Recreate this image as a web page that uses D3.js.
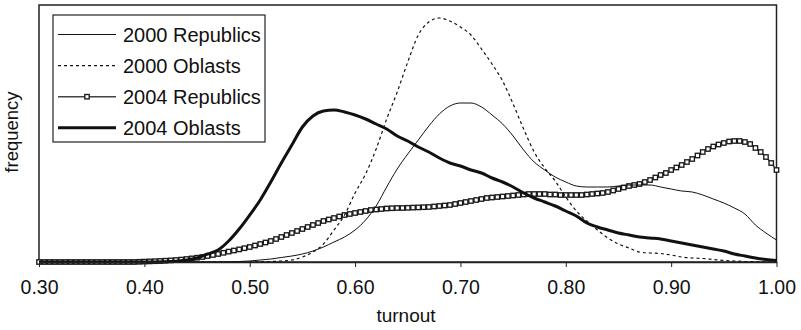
<!DOCTYPE html>
<html>
<head>
<meta charset="utf-8">
<script src="https://cdn.jsdelivr.net/npm/d3@7"></script>
<style>
  html, body { margin: 0; padding: 0; background: #fff; }
  svg { display: block; font-family: "Liberation Sans", Arial, sans-serif; }
</style>
</head>
<body>
<svg id="chart" width="801" height="330"></svg>
<script>
// Turnout grid for the density curves (0.30 … 1.00, step 0.01)
const turnout = d3.range(71).map(i => (30 + i) / 100);
// Finer grid used for the 2004 Republics curve (step 0.005)
const turnoutFine = d3.range(141).map(i => (600 + i * 10) / 2000);

// Estimated frequency (arbitrary units)
const republics2000 = [
  0,0,0,0,0,0,0,0,0,0, 0,0,0,0,0,0,0,0,
  0.3,0.5,1,2,3,4.5,6,8,11,15,
  20,25,32,42,56,75,93,108,122,136,
  148,156,159,159,155,147,138,126,112,100,
  92,85,80,76,75,75,75,76,77,77,
  77,75,73,71,70,67,63,59,54,48,
  37,29,22
];

const oblasts2000 = [
  0,0,0,0,0,0,0,0,0,0, 0,0,0,0,0,0,0,0,0,0, 0,
  0.3,0.5,1,2,5,10,18,32,47,69,
  88,113,143,170,200,227,240,244,241,235,
  227,213,198,181,158,133,110,94,81,65,
  51,41,32,24,18,14,10,9,8.5,7,
  5,4,3.5,2.5,1.5,1,0.5,0.3,0.2,0
];

const republics2004 = [
  0,0,0,0,0,0,0,0,0,0, 0,0,0,0,0,0,0,0,0,
  0.2,0.4,0.6,0.8,1.0,1.3,1.6,2.0,2.4,3.0,
  3.6,4.3,5.0,6.0,7.0,8.0,9.2,10.4,11.5,12.6,
  13.8,15,16.5,18,19.5,21,23,25,27,29,
  31,33,35,37,39,41,42.5,44,45.5,47,
  48,49,50,51,52,52.5,53,53.5,53.8,54,
  54,54.2,54.4,54.6,54.8,55,55.5,56,56.5,57,
  58,59,60,61,62,63,64,64.5,65,65.5,
  66,66.5,67,67.5,68,68,68,68,67.5,67.5,
  67,67,67,67,67,67.5,68,68.5,69,70,
  71.5,73,74.5,76,77,78,80,82,84.5,87,
  89,92,94.5,97,100,103,106.5,110,113,115.5,
  117.5,119,120.5,121,121,120,118,114,110,105,
  99,92
];

const oblasts2004 = [
  0,0,0,0,0,0,0,0,0,0, 0,0,
  0.3,0.7,2,4,8,12,21,33,47,62,
  80,99,117,135,146,151,152,150,147,143,
  138,133,126,121,115,110,104,99,96,92,
  89,84,80,75,69,64,60,56,51,46,
  39,35,32,29,27,25,24,23,21,19,
  17,15,13,11,8,6,4,2.5,1.5
];

const xTicks = [0.30, 0.40, 0.50, 0.60, 0.70, 0.80, 0.90, 1.00];
const seriesNames = ["2000 Republics", "2000 Oblasts", "2004 Republics", "2004 Oblasts"];

const series = [
  { name: seriesNames[0], x: turnout, y: republics2000, stroke: "#111", width: 1, dash: null, markers: false },
  { name: seriesNames[1], x: turnout, y: oblasts2000, stroke: "#111", width: 1.2, dash: "3,3", markers: false },
  { name: seriesNames[2], x: turnoutFine, y: republics2004, stroke: "#444", width: 1.6, dash: null, markers: true },
  { name: seriesNames[3], x: turnout, y: oblasts2004, stroke: "#111", width: 3, dash: null, markers: false }
];

const svg = d3.select("#chart");
const plot = { left: 39, right: 776.5, top: 5, bottom: 262 };

const x = d3.scaleLinear().domain([0.30, 1.00]).range([plot.left, plot.right]);
const y = d3.scaleLinear().domain([0, 257]).range([plot.bottom, plot.top]);

// Plot frame
svg.append("rect")
  .attr("x", plot.left).attr("y", plot.top)
  .attr("width", plot.right - plot.left).attr("height", plot.bottom - plot.top)
  .attr("fill", "none").attr("stroke", "#222").attr("stroke-width", 1.5);

const line = d3.line()
  .x(d => x(d[0]))
  .y(d => y(d[1]))
  .curve(d3.curveMonotoneX);

// Curves: the marker series goes first so the plain lines sit on top where they cross
const order = [2, 0, 1, 3];
order.forEach(k => {
  const s = series[k];
  const pts = s.x.map((t, i) => [t, s.y[i]]);
  svg.append("path")
    .datum(pts)
    .attr("d", line)
    .attr("fill", "none")
    .attr("stroke", s.stroke)
    .attr("stroke-width", s.width)
    .attr("stroke-linejoin", "round")
    .attr("stroke-dasharray", s.dash);
  if (s.markers) {
    svg.append("g").selectAll("rect")
      .data(pts)
      .join("rect")
      .attr("x", d => x(d[0]) - 2.2)
      .attr("y", d => y(d[1]) - 2.2)
      .attr("width", 4.4).attr("height", 4.4)
      .attr("fill", "#fff")
      .attr("stroke", "#1a1a1a")
      .attr("stroke-width", 1.35);
  }
});

// X axis
const xAxis = d3.axisBottom(x)
  .tickValues(xTicks)
  .tickFormat(d3.format(".2f"))
  .tickSizeInner(5)
  .tickSizeOuter(0)
  .tickPadding(13);

const gx = svg.append("g")
  .attr("transform", `translate(0,${plot.bottom})`)
  .call(xAxis);
gx.select(".domain").attr("stroke", "#222").attr("stroke-width", 1.5);
gx.selectAll(".tick line").attr("stroke", "#222").attr("stroke-width", 1);
gx.selectAll(".tick text")
  .attr("fill", "#111")
  .style("font-size", "19.5px")
  .style("font-family", "'Liberation Sans', Arial, sans-serif");

// Axis titles
svg.append("text")
  .attr("x", 406).attr("y", 322)
  .attr("text-anchor", "middle")
  .attr("fill", "#111")
  .style("font-size", "19px")
  .text("turnout");

svg.append("text")
  .attr("transform", "translate(18,132) rotate(-90)")
  .attr("text-anchor", "middle")
  .attr("fill", "#111")
  .style("font-size", "18.5px")
  .text("frequency");

// Legend
const legend = svg.append("g");
legend.append("rect")
  .attr("x", 53).attr("y", 15)
  .attr("width", 212).attr("height", 127)
  .attr("fill", "#fff").attr("stroke", "#222").attr("stroke-width", 1.2);

series.forEach((s, i) => {
  const cy = 34.5 + i * 31.1;
  legend.append("line")
    .attr("x1", 58).attr("x2", 116)
    .attr("y1", cy).attr("y2", cy)
    .attr("stroke", s.stroke)
    .attr("stroke-width", s.width)
    .attr("stroke-dasharray", s.dash);
  if (s.markers) {
    legend.append("rect")
      .attr("x", 84.8).attr("y", cy - 2.2)
      .attr("width", 4.4).attr("height", 4.4)
      .attr("fill", "#fff").attr("stroke", "#1a1a1a").attr("stroke-width", 1.35);
  }
  legend.append("text")
    .attr("x", 123).attr("y", cy)
    .attr("dy", "0.36em")
    .attr("fill", "#111")
    .style("font-size", "20px")
    .text(s.name);
});
</script>
</body>
</html>
